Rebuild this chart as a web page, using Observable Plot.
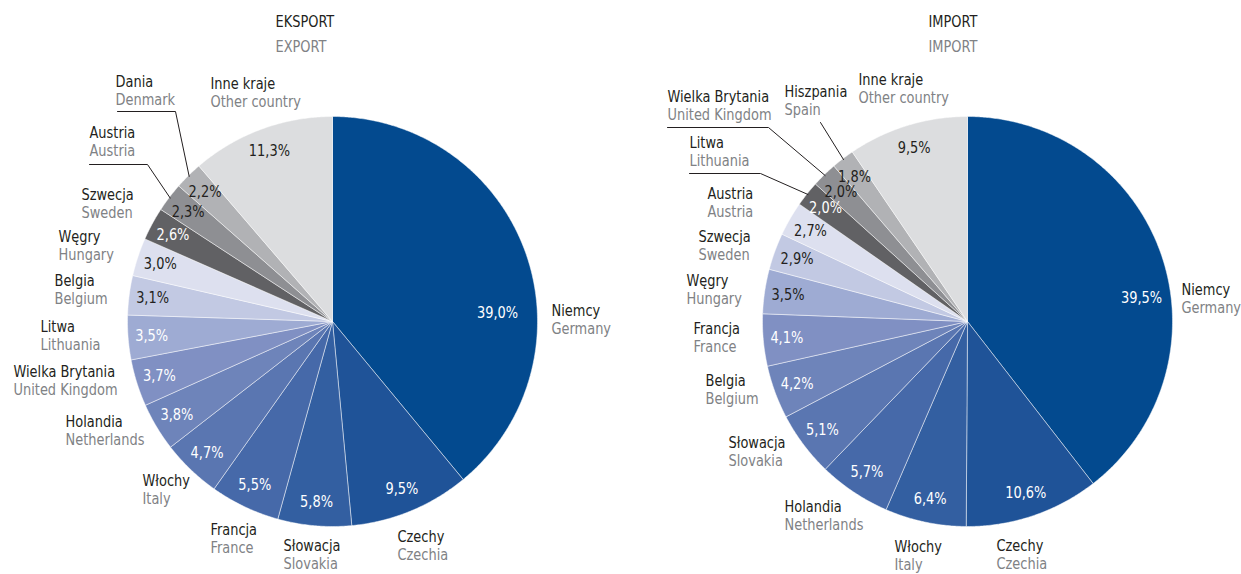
<!DOCTYPE html>
<html><head><meta charset="utf-8">
<script src="https://cdn.jsdelivr.net/npm/d3@7"></script>
<script src="https://cdn.jsdelivr.net/npm/@observablehq/plot@0.6"></script>
<style>
html,body{margin:0;padding:0;background:#fff;}
#wrap{display:flex;width:1241px;height:574px;overflow:hidden;}
svg text{font-family:"DejaVu Sans Condensed","Liberation Sans Narrow",sans-serif;}
</style></head><body><div id="wrap"></div>
<script>
// ---------- DATA ----------
const exportNamesPl = ["Niemcy","Czechy","Słowacja","Francja","Włochy","Holandia","Wielka Brytania","Litwa","Belgia","Węgry","Szwecja","Austria","Dania","Inne kraje"];
const exportNamesEn = ["Germany","Czechia","Slovakia","France","Italy","Netherlands","United Kingdom","Lithuania","Belgium","Hungary","Sweden","Austria","Denmark","Other country"];
const exportShares = [39.0,9.5,5.8,5.5,4.7,3.8,3.7,3.5,3.1,3.0,2.6,2.3,2.2,11.3];

const importNamesPl = ["Niemcy","Czechy","Włochy","Holandia","Słowacja","Belgia","Francja","Węgry","Szwecja","Austria","Litwa","Wielka Brytania","Hiszpania","Inne kraje"];
const importNamesEn = ["Germany","Czechia","Italy","Netherlands","Slovakia","Belgium","France","Hungary","Sweden","Austria","Lithuania","United Kingdom","Spain","Other country"];
const importShares = [39.5,10.6,6.4,5.7,5.1,4.2,4.1,3.5,2.9,2.7,2.0,2.0,1.8,9.5];

const titles = [["EKSPORT","EXPORT"],["IMPORT","IMPORT"]];

// ---------- STYLE ----------
const sliceColors = ["#034a8f","#1f5398","#335fa1","#4669a9","#5a76b1","#6e84ba","#8090c3","#9eabd3","#c2c9e3","#dde0ef","#616164","#8e8f93","#b1b2b5","#dcdddf"];
const exportDarkPct = [8,9,11,12,13];
const importDarkPct = [7,8,9,11,12,13];
const labelSize = 15.5, labelSqueeze = 0.93;
const pctSize = 15.5, pctSqueeze = 0.86;

// ---------- LAYOUT (pixel offsets from pie centre) ----------
const R = 205, H = 574;
const exportLayout = {
  width: 620, cx: 332, cy: 321,
  title: [-57, -299],
  labels: [[219,-10],[65,216],[-49,225],[-122,209],[-190,160],[-267,101],[-319,51],[-292,6],[-278,-40],[-274,-84],[-251,-126],[-243,-188],[-217,-239],[-122,-237]],
  leaders: {11: [[-243,-157],[-185,-157]], 12: [[-215,-210],[-157,-210]]},
  pctOverride: {0: [165,-8]}
};
const importLayout = {
  width: 621, cx: 347, cy: 321,
  title: [-39, -299],
  labels: [[214,-31],[29,225],[-73,226],[-183,186],[-239,122],[-262,60],[-274,8],[-281,-40],[-269,-84],[-260,-127],[-278,-178],[-300,-224],[-183,-229],[-109,-241]],
  leaders: {10: [[-278,-148],[-207,-148]], 11: [[-300,-194],[-199,-194]], 12: [[-147,-199]]},
  pctOverride: {0: [174,-23], 12: [-113,-144]}
};

const fmt = v => d3.format(".1f")(v).replace(".", ",") + "%";

function pieChart(namesPl, namesEn, shares, darkPct, title, lay) {
  const W = lay.width;
  const arcs = d3.pie().sort(null).value(d => d)(shares);
  const px = dx => dx / R, py = dy => -dy / R;
  const pts = [];
  arcs.forEach((a, i) => {
    const n = Math.max(2, Math.ceil((a.endAngle - a.startAngle) / 0.008));
    pts.push({i, x: 0, y: 0});
    for (let k = 0; k <= n; k++) {
      const t = a.startAngle + (a.endAngle - a.startAngle) * k / n;
      pts.push({i, x: Math.sin(t), y: Math.cos(t)});
    }
    pts.push({i, x: 0, y: 0});
  });
  const pct = arcs.map((a, i) => {
    const m = (a.startAngle + a.endAngle) / 2;
    const o = lay.pctOverride[i];
    return {i, text: fmt(shares[i]),
      x: o ? px(o[0]) : 0.885 * Math.sin(m),
      y: o ? py(o[1]) : 0.885 * Math.cos(m),
      dark: darkPct.includes(i)};
  });
  const labels = namesPl.map((n, i) => ({i, pl: n, en: namesEn[i], x: px(lay.labels[i][0]), y: py(lay.labels[i][1])}));
  const leaderPts = [];
  Object.entries(lay.leaders).forEach(([k, list]) => {
    const i = +k, a = arcs[i], m = (a.startAngle + a.endAngle) / 2;
    list.forEach(p => leaderPts.push({i, x: px(p[0]), y: py(p[1])}));
    leaderPts.push({i, x: 0.995 * Math.sin(m), y: 0.995 * Math.cos(m)});
  });
  const tt = [{pl: title[0], en: title[1], x: px(lay.title[0]), y: py(lay.title[1])}];
  const svg = Plot.plot({
    width: W, height: H, margin: 0,
    x: {axis: null, domain: [-lay.cx / R, (W - lay.cx) / R], range: [0, W]},
    y: {axis: null, domain: [-(H - lay.cy) / R, lay.cy / R], range: [H, 0]},
    color: {type: "identity"},
    style: {background: "#fff", overflow: "visible"},
    marks: [
      Plot.line(pts, {x: "x", y: "y", z: "i", fill: d => sliceColors[d.i], stroke: "#ffffff", strokeWidth: 0.6, strokeOpacity: 0.8, curve: "linear"}),
      Plot.line(leaderPts, {x: "x", y: "y", z: "i", stroke: "#231f20", strokeWidth: 1}),
      Plot.text(pct, {x: "x", y: "y", text: "text", fill: d => d.dark ? "#231f20" : "#ffffff", fontSize: pctSize, textAnchor: "middle", lineAnchor: "middle", ariaLabel: "pct"}),
      Plot.text(labels, {x: "x", y: "y", text: "pl", fill: "#231f20", fontSize: labelSize, textAnchor: "start", lineAnchor: "middle"}),
      Plot.text(labels, {x: "x", y: "y", text: "en", fill: "#808285", fontSize: labelSize, textAnchor: "start", lineAnchor: "middle", dy: 18}),
      Plot.text(tt, {x: "x", y: "y", text: "pl", fill: "#231f20", fontSize: labelSize, textAnchor: "start", lineAnchor: "middle"}),
      Plot.text(tt, {x: "x", y: "y", text: "en", fill: "#808285", fontSize: labelSize, textAnchor: "start", lineAnchor: "middle", dy: 25})
    ]
  });
  // condense the lettering horizontally around each text's anchor (original uses a condensed typeface)
  svg.querySelectorAll('g[aria-label] text').forEach(t => {
    const isPct = t.parentNode.getAttribute("aria-label") === "pct";
    const tr = t.getAttribute("transform") || "";
    t.setAttribute("transform", `${tr} scale(${isPct ? pctSqueeze : labelSqueeze},1)`);
  });
  return svg;
}

const wrap = document.getElementById("wrap");
wrap.appendChild(pieChart(exportNamesPl, exportNamesEn, exportShares, exportDarkPct, titles[0], exportLayout));
wrap.appendChild(pieChart(importNamesPl, importNamesEn, importShares, importDarkPct, titles[1], importLayout));
</script></body></html>
